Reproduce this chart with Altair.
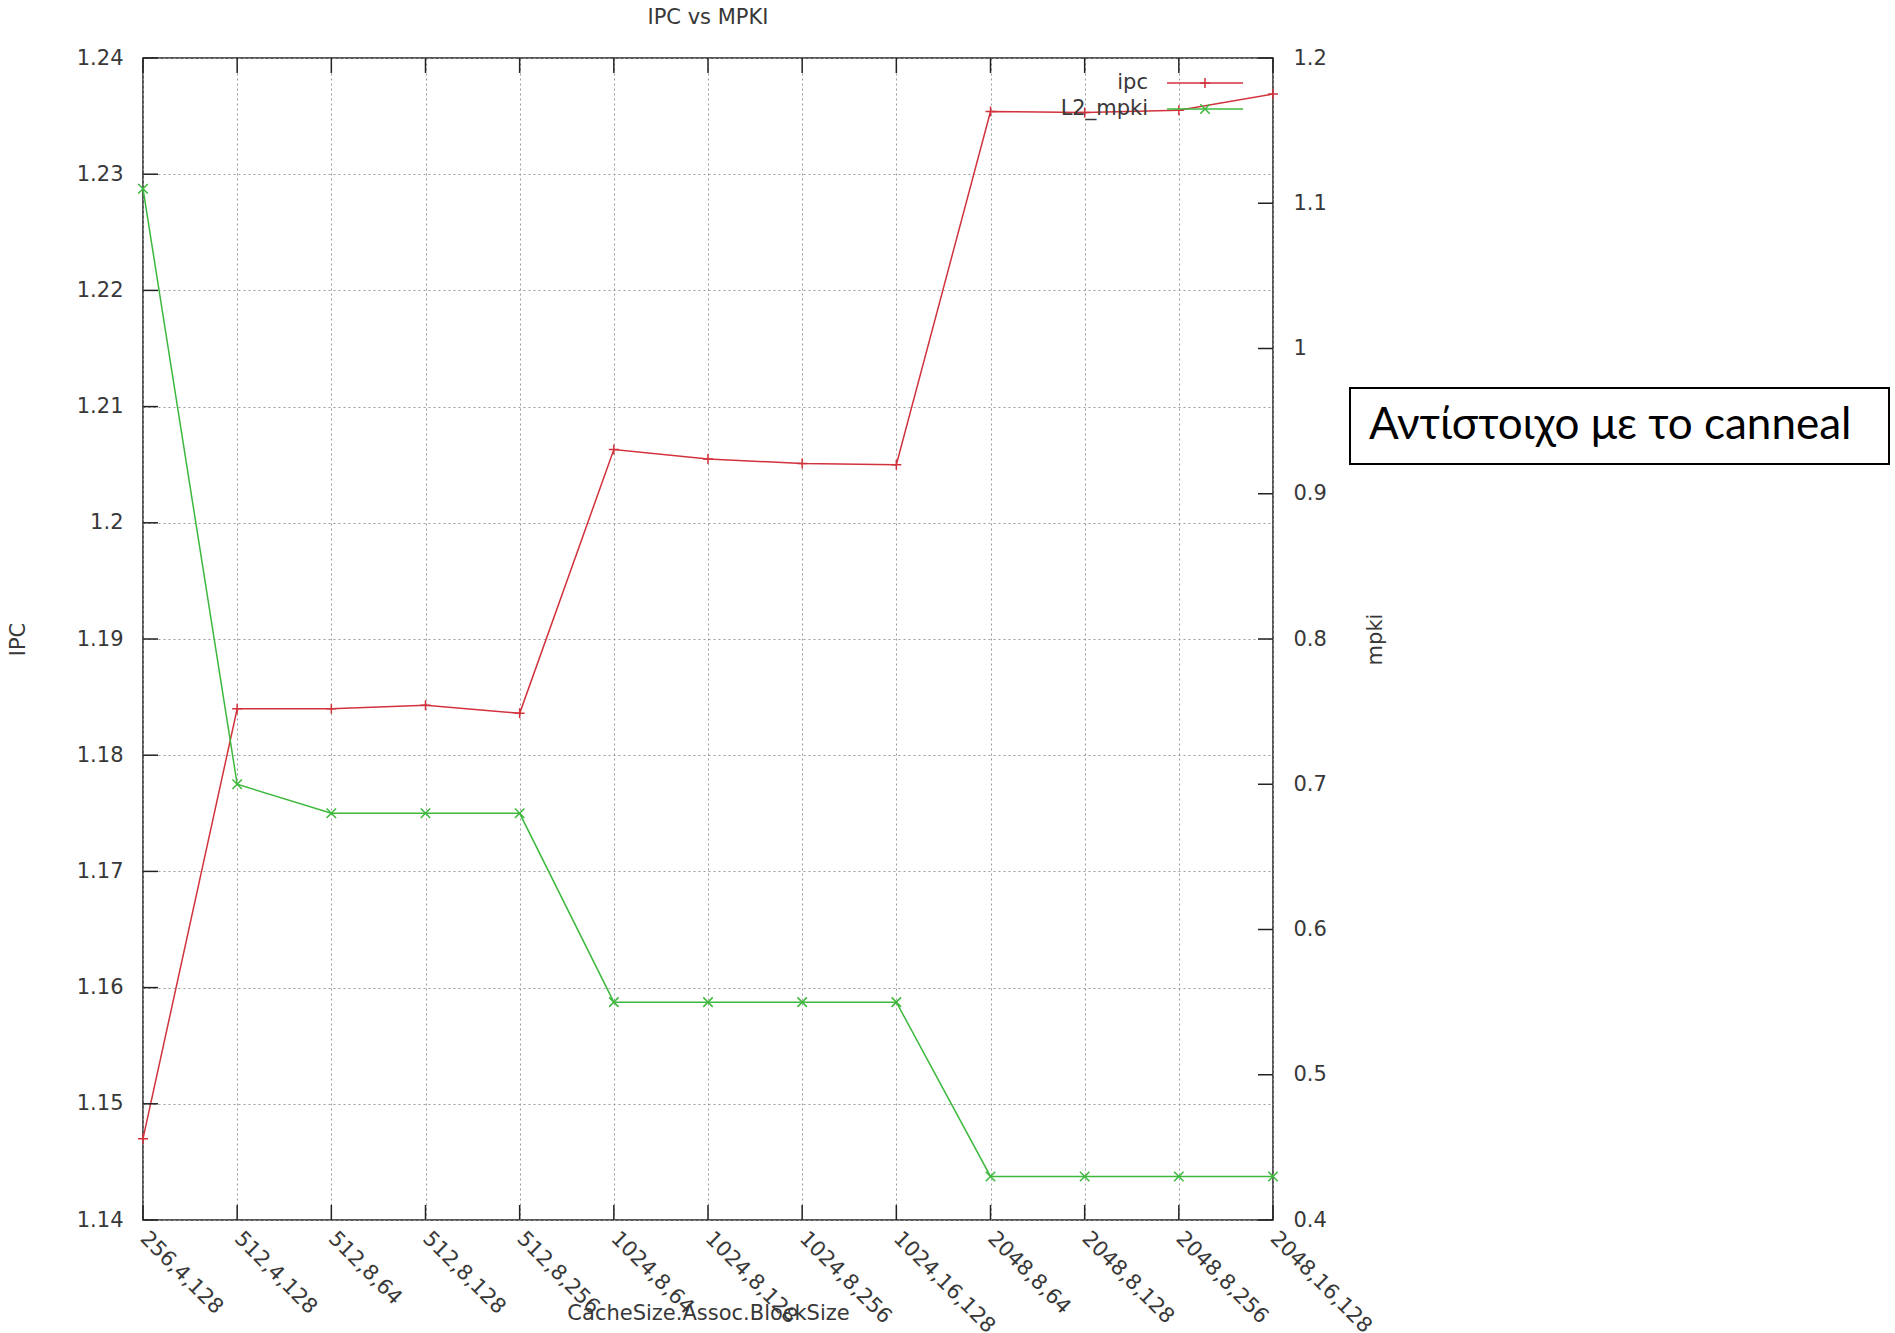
import altair as alt
import pandas as pd

# Cache configurations (CacheSize, Assoc, BlockSize)
configs = [
    "256,4,128", "512,4,128", "512,8,64", "512,8,128", "512,8,256",
    "1024,8,64", "1024,8,128", "1024,8,256", "1024,16,128",
    "2048,8,64", "2048,8,128", "2048,8,256", "2048,16,128",
]
ipc = [1.1470, 1.1840, 1.1840, 1.1843, 1.1836, 1.2063, 1.2055,
       1.2051, 1.2050, 1.2354, 1.2353, 1.2355, 1.2369]
l2_mpki = [1.11, 0.70, 0.68, 0.68, 0.68, 0.55, 0.55,
           0.55, 0.55, 0.43, 0.43, 0.43, 0.43]

ipc_ticks = [1.14, 1.15, 1.16, 1.17, 1.18, 1.19, 1.2, 1.21, 1.22, 1.23, 1.24]
mpki_ticks = [0.4, 0.5, 0.6, 0.7, 0.8, 0.9, 1.0, 1.1, 1.2]
series = ["ipc", "L2_mpki"]
title_text = "IPC vs MPKI"
note_text = "Αντίστοιχο με το canneal"

W, H = 1130, 1162
FONT = "DejaVu Sans"
FS = 21
TXT = "#383838"
RED = "#d2323c"
GREEN = "#3db83d"
TICK = 15
PLUS = "M-1,0L1,0M0,-1L0,1"
CROSS = "M-1,-1L1,1M-1,1L1,-1"

df = pd.DataFrame({"config": configs, "ipc": ipc, "mpki": l2_mpki})
ipc_tick_df = pd.DataFrame({"ipc": ipc_ticks})
mpki_tick_df = pd.DataFrame({"mpki": mpki_ticks})
cfg_df = pd.DataFrame({"config": configs})

x_scale = alt.Scale(type="point", padding=0, domain=configs)
x_ax = alt.Axis(
    title="CacheSize.Assoc.BlockSize",
    titleY=93,
    titleBaseline="middle",
    titleFont=FONT,
    titleFontSize=FS,
    titleFontWeight="normal",
    titleColor=TXT,
    labelAngle=45,
    labelAlign="left",
    labelBaseline="middle",
    labelPadding=15,
    labelFont=FONT,
    labelFontSize=FS,
    labelColor=TXT,
    labelOverlap=False,
    labelBound=False,
    labelFlush=False,
    ticks=False,
    domain=False,
    grid=True,
    gridDash=[2, 3],
    gridColor="#9a9a9a",
    gridWidth=1,
)
x_enc = alt.X("config:N", scale=x_scale, sort=configs, axis=x_ax)

ipc_scale = alt.Scale(domain=[1.14, 1.24], nice=False, zero=False)
mpki_scale = alt.Scale(domain=[0.4, 1.2], nice=False, zero=False)

ipc_ax = alt.Axis(
    orient="left",
    title="IPC",
    titleX=-125,
    titleAngle=270,
    titleBaseline="middle",
    titleFont=FONT,
    titleFontSize=FS,
    titleFontWeight="normal",
    titleColor=TXT,
    values=ipc_ticks,
    format=".3~g",
    labelPadding=20,
    labelFont=FONT,
    labelFontSize=FS,
    labelColor=TXT,
    labelFlush=False,
    labelOverlap=False,
    ticks=False,
    domain=False,
    grid=True,
    gridDash=[2, 3],
    gridColor="#9a9a9a",
    gridWidth=1,
)
mpki_ax = alt.Axis(
    orient="right",
    title="mpki",
    titleX=102,
    titleAngle=270,
    titleBaseline="middle",
    titleFont=FONT,
    titleFontSize=FS,
    titleFontWeight="normal",
    titleColor=TXT,
    values=mpki_ticks,
    format=".2~g",
    labelPadding=20,
    labelFont=FONT,
    labelFontSize=FS,
    labelColor=TXT,
    labelFlush=False,
    labelOverlap=False,
    ticks=False,
    domain=False,
    grid=False,
)
y_ipc = alt.Y("ipc:Q", scale=ipc_scale, axis=ipc_ax)
y_mpki = alt.Y("mpki:Q", scale=mpki_scale, axis=mpki_ax)

# --- IPC series (left axis) ---
ipc_line = alt.Chart(df).mark_line(color=RED, strokeWidth=1.5).encode(x=x_enc, y=y_ipc)
ipc_pts = alt.Chart(df).mark_point(
    shape=PLUS, filled=False, color=RED, size=100, strokeWidth=1.5, opacity=1
).encode(x=x_enc, y=y_ipc)
ipc_tick_marks = alt.Chart(ipc_tick_df).mark_rule(color="#222", strokeWidth=1.5).encode(
    y=y_ipc, x=alt.value(0), x2=alt.value(TICK)
)
key_ipc = pd.DataFrame({"s": [series[0]]})
ipc_key_text = alt.Chart(key_ipc).mark_text(
    align="right", baseline="middle", font=FONT, fontSize=FS, color=TXT
).encode(text="s:N", x=alt.value(1005), y=alt.value(25))
ipc_key_line = alt.Chart(key_ipc).mark_rule(color=RED, strokeWidth=1.5).encode(
    x=alt.value(1024), x2=alt.value(1100), y=alt.value(25)
)
ipc_key_pt = alt.Chart(key_ipc).mark_point(
    shape=PLUS, filled=False, color=RED, size=100, strokeWidth=1.5, opacity=1
).encode(x=alt.value(1062), y=alt.value(25))

ipc_group = alt.layer(ipc_line, ipc_pts, ipc_tick_marks,
                      ipc_key_text, ipc_key_line, ipc_key_pt)

# --- L2 MPKI series (right axis) ---
mpki_line = alt.Chart(df).mark_line(color=GREEN, strokeWidth=1.5).encode(x=x_enc, y=y_mpki)
mpki_pts = alt.Chart(df).mark_point(
    shape=CROSS, filled=False, color=GREEN, size=90, strokeWidth=1.5, opacity=1
).encode(x=x_enc, y=y_mpki)
mpki_tick_marks = alt.Chart(mpki_tick_df).mark_rule(color="#222", strokeWidth=1.5).encode(
    y=y_mpki, x=alt.value(W - TICK), x2=alt.value(W)
)
key_mpki = pd.DataFrame({"s": [series[1]]})
mpki_key_text = alt.Chart(key_mpki).mark_text(
    align="right", baseline="middle", font=FONT, fontSize=FS, color=TXT
).encode(text="s:N", x=alt.value(1005), y=alt.value(51))
mpki_key_line = alt.Chart(key_mpki).mark_rule(color=GREEN, strokeWidth=1.5).encode(
    x=alt.value(1024), x2=alt.value(1100), y=alt.value(51)
)
mpki_key_pt = alt.Chart(key_mpki).mark_point(
    shape=CROSS, filled=False, color=GREEN, size=90, strokeWidth=1.5, opacity=1
).encode(x=alt.value(1062), y=alt.value(51))

mpki_group = alt.layer(mpki_line, mpki_pts, mpki_tick_marks,
                       mpki_key_text, mpki_key_line, mpki_key_pt)

# --- x ticks on the bottom and top edges, title and note ---
x_ticks_bottom = alt.Chart(cfg_df).mark_rule(color="#222", strokeWidth=1.5).encode(
    x=x_enc, y=alt.value(H - TICK), y2=alt.value(H)
)
x_ticks_top = alt.Chart(cfg_df).mark_rule(color="#222", strokeWidth=1.5).encode(
    x=x_enc, y=alt.value(0), y2=alt.value(TICK)
)
title_mark = alt.Chart(pd.DataFrame({"t": [title_text]})).mark_text(
    align="center", baseline="middle", font=FONT, fontSize=FS, color=TXT
).encode(text="t:N", x=alt.value(W / 2), y=alt.value(-40))

note_df = pd.DataFrame({"t": [note_text]})
note_box = alt.Chart(note_df).mark_rect(
    fill="white", stroke="black", strokeWidth=2
).encode(x=alt.value(1207), x2=alt.value(1746), y=alt.value(330), y2=alt.value(406))
note_mark = alt.Chart(note_df).mark_text(
    align="left", baseline="middle", font="Lato", fontSize=44, color="black"
).encode(text="t:N", x=alt.value(1226), y=alt.value(368))

chart = alt.layer(ipc_group, mpki_group).resolve_scale(y="independent")
chart = alt.layer(chart, x_ticks_bottom, x_ticks_top, title_mark, note_box, note_mark)

chart = chart.properties(
    width=W,
    height=H,
    autosize=alt.AutoSizeParams(type="none"),
    padding={"left": 143, "top": 58, "right": 622, "bottom": 113},
    background="white",
).configure_view(stroke="#222", strokeWidth=1.5)

chart.save("out.html", embed_options={"renderer": "svg", "actions": False})
